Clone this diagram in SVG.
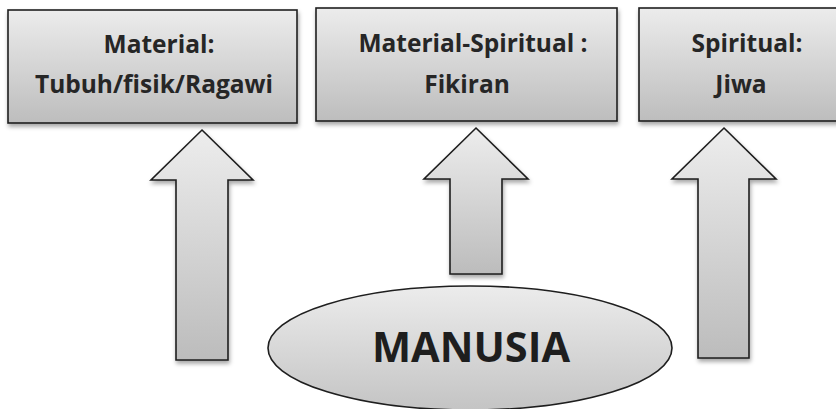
<svg xmlns="http://www.w3.org/2000/svg" width="836" height="409" viewBox="0 0 836 409">
<defs>
<linearGradient id="gBox" x1="0" y1="0" x2="0" y2="1">
<stop offset="0" stop-color="#ececec"/>
<stop offset="1" stop-color="#bdbdbd"/>
</linearGradient>
<linearGradient id="gArrow" x1="0" y1="0" x2="0" y2="1">
<stop offset="0" stop-color="#ededed"/>
<stop offset="1" stop-color="#bcbcbc"/>
</linearGradient>
<linearGradient id="gEll" x1="0" y1="0" x2="0" y2="1">
<stop offset="0" stop-color="#ececec"/>
<stop offset="1" stop-color="#c4c4c4"/>
</linearGradient>
<filter id="sh" x="-10%" y="-10%" width="120%" height="130%">
<feDropShadow dx="1" dy="3" stdDeviation="2" flood-color="#000" flood-opacity="0.35"/>
</filter>
</defs>
<style>
.box{fill:url(#gBox);stroke:#1e1e1e;stroke-width:1.6;filter:url(#sh)}
.arr{fill:url(#gArrow);stroke:#1e1e1e;stroke-width:1.6;stroke-linejoin:miter;filter:url(#sh)}
.ell{fill:url(#gEll);stroke:#1e1e1e;stroke-width:1.6}
.t{font-family:"Open Sans","Liberation Sans",sans-serif;font-weight:bold;font-size:24.5px;fill:#262626;text-anchor:middle}
.big{font-family:"Open Sans","Liberation Sans",sans-serif;font-weight:bold;font-size:41.5px;fill:#1e1e1e;text-anchor:middle}
</style>
<g id="node-material">
<rect class="box" x="8" y="10" width="289" height="113"/>
<text class="t" x="159" y="53">Material:</text>
<text class="t" x="154" y="93">Tubuh/fisik/Ragawi</text>
</g>
<g id="node-material-spiritual">
<rect class="box" x="316" y="8" width="301" height="113"/>
<text class="t" x="473" y="52">Material-Spiritual :</text>
<text class="t" x="467" y="93">Fikiran</text>
</g>
<g id="node-spiritual">
<rect class="box" x="639" y="8" width="212" height="113"/>
<text class="t" x="747" y="52">Spiritual:</text>
<text class="t" x="741" y="93">Jiwa</text>
</g>
<g id="connectors">
<polygon class="arr" points="202,130 253,180 228,180 228,360 176,360 176,180 151,180"/>
<polygon class="arr" points="476,128 528,179 502,179 502,274 450,274 450,179 424,179"/>
<polygon class="arr" points="724,128 776,179 749,179 749,358 698,358 698,179 672,179"/>
</g>
<g id="node-manusia">
<ellipse class="ell" cx="470" cy="348" rx="202" ry="62"/>
<text class="big" x="471" y="362">MANUSIA</text>
</g>
</svg>
